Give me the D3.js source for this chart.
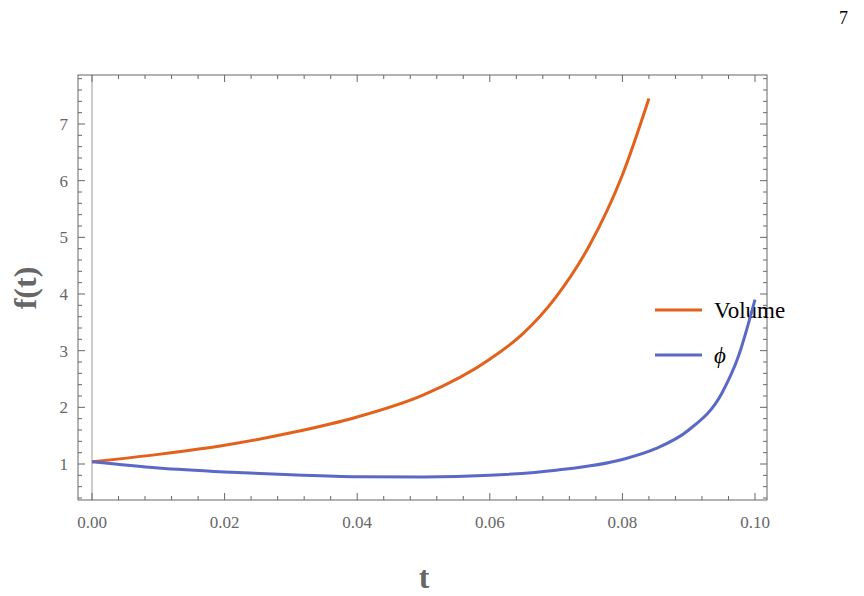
<!DOCTYPE html>
<html><head><meta charset="utf-8">
<script src="https://cdn.jsdelivr.net/npm/d3@7"></script>
<style>body{margin:0;background:#fff}text{font-family:"Liberation Serif",serif}</style>
</head><body><svg id="c" width="864" height="596"></svg>
<script>
const volT = [0, 0.01, 0.02, 0.03, 0.04, 0.05, 0.06, 0.065, 0.07, 0.075, 0.08, 0.084];
const volV = [1.04, 1.17, 1.33, 1.55, 1.83, 2.22, 2.85, 3.3, 3.95, 4.85, 6.1, 7.45];
const phiT = [0, 0.01, 0.02, 0.03, 0.04, 0.05, 0.06, 0.07, 0.08, 0.085, 0.09, 0.095, 0.0975, 0.1];
const phiV = [1.04, 0.93, 0.86, 0.81, 0.775, 0.77, 0.8, 0.89, 1.08, 1.27, 1.6, 2.25, 2.9, 3.9];
const xTicks = [0, 0.02, 0.04, 0.06, 0.08, 0.1];
const yTicks = [1, 2, 3, 4, 5, 6, 7];

const svg = d3.select("#c");
const L = 78, R = 767, T = 75, B = 500;
const x = d3.scaleLinear().domain([0, 0.1]).range([92, 755]);
const y = d3.scaleLinear().domain([1, 7]).range([464, 124]);
const grey = "#666";

svg.append("line").attr("x1", x(0)).attr("x2", x(0)).attr("y1", T).attr("y2", B)
  .attr("stroke", "#ccc").attr("stroke-width", 2);
svg.append("rect").attr("x", L).attr("y", T).attr("width", R - L).attr("height", B - T)
  .attr("fill", "none").attr("stroke", grey);

const xMinor = d3.range(0, 0.1001, 0.004);
xMinor.forEach(v => {
  const major = xTicks.some(t => Math.abs(t - v) < 1e-9);
  const len = major ? 7 : 4;
  svg.append("line").attr("x1", x(v)).attr("x2", x(v)).attr("y1", B).attr("y2", B - len).attr("stroke", grey);
  svg.append("line").attr("x1", x(v)).attr("x2", x(v)).attr("y1", T).attr("y2", T + len).attr("stroke", grey);
});
d3.range(0.4, 7.81, 0.2).forEach(v => {
  const major = yTicks.some(t => Math.abs(t - v) < 1e-9);
  const len = major ? 7 : 4;
  svg.append("line").attr("x1", L).attr("x2", L + len).attr("y1", y(v)).attr("y2", y(v)).attr("stroke", grey);
  svg.append("line").attr("x1", R).attr("x2", R - len).attr("y1", y(v)).attr("y2", y(v)).attr("stroke", grey);
});
xTicks.forEach(v => svg.append("text").attr("x", x(v)).attr("y", 528).attr("text-anchor", "middle")
  .attr("font-size", 17).attr("fill", grey).text(d3.format(".2f")(v)));
yTicks.forEach(v => svg.append("text").attr("x", 68).attr("y", y(v) + 6).attr("text-anchor", "end")
  .attr("font-size", 17).attr("fill", grey).text(v));

svg.append("text").attr("x", 424).attr("y", 588).attr("text-anchor", "middle")
  .attr("font-size", 32).attr("font-weight", "bold").attr("fill", grey).text("t");
svg.append("text").attr("transform", "translate(36,288) rotate(-90)").attr("text-anchor", "middle")
  .attr("font-size", 32).attr("font-weight", "bold").attr("fill", grey).text("f(t)");
svg.append("text").attr("x", 848).attr("y", 24).attr("text-anchor", "end").attr("font-size", 18).text("7");

const line = d3.line().x(d => x(d[0])).y(d => y(d[1])).curve(d3.curveMonotoneX);
const series = [
  { t: volT, v: volV, c: "#e2611b", name: "Volume", ly: 310, italic: false },
  { t: phiT, v: phiV, c: "#5b69c6", name: "\u03d5", ly: 355, italic: true }
];
series.forEach(s => {
  svg.append("path").attr("d", line(s.t.map((t, i) => [t, s.v[i]])))
    .attr("fill", "none").attr("stroke", s.c).attr("stroke-width", 3);
  svg.append("line").attr("x1", 655).attr("x2", 702).attr("y1", s.ly).attr("y2", s.ly)
    .attr("stroke", s.c).attr("stroke-width", 3);
  svg.append("text").attr("x", 714).attr("y", s.ly + 8).attr("font-size", 23)
    .attr("font-style", s.italic ? "italic" : "normal").text(s.name);
});
</script></body></html>
